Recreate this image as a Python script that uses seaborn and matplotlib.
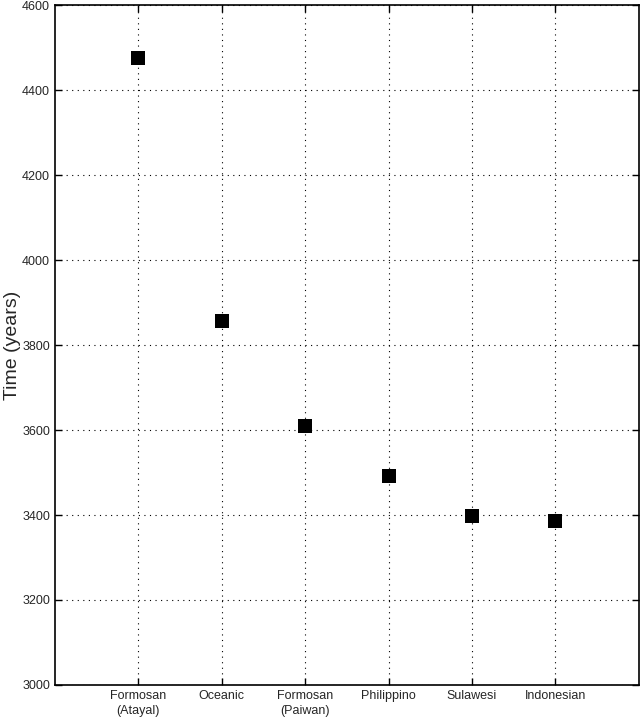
import matplotlib
matplotlib.use("Agg")
import matplotlib.pyplot as plt
import pandas as pd
import seaborn as sns

GROUPS = ["Formosan\n(Atayal)", "Oceanic", "Formosan\n(Paiwan)", "Philippino", "Sulawesi", "Indonesian"]
TIME_YEARS = [4475, 3857, 3609, 3492, 3398, 3386]
Y_TICKS = [3000, 3200, 3400, 3600, 3800, 4000, 4200, 4400, 4600]


def main() -> None:
    sns.set_style("ticks")
    plt.rcParams["font.family"] = ["Liberation Sans", "DejaVu Sans"]

    df = pd.DataFrame({"group": GROUPS, "time": TIME_YEARS})

    fig = plt.figure(figsize=(6.4, 7.26), dpi=100)
    ax = fig.add_axes([0.086, 0.0565, 0.912, 0.9365])
    sns.scatterplot(data=df, x="group", y="time", marker="s", s=110,
                    color="black", edgecolor="black", linewidth=0, ax=ax, zorder=3)

    ax.set_xlim(-1, len(GROUPS))
    ax.set_ylim(3000, 4600)
    ax.set_yticks(Y_TICKS)
    ax.set_xticks(range(len(GROUPS)))
    ax.set_xticklabels(GROUPS, fontsize=9, linespacing=1.35)
    ax.tick_params(axis="y", labelsize=9)
    ax.tick_params(direction="in", length=5, width=1, color="black",
                   top=True, right=True)
    ax.grid(True, linestyle=(0, (1, 4)), color="black", linewidth=0.8)
    for sp in ax.spines.values():
        sp.set_visible(True)
        sp.set_color("black")
        sp.set_linewidth(1.2)

    ax.set_xlabel("")
    ax.set_ylabel("Time (years)", fontsize=14)
    ax.yaxis.set_label_coords(-0.058, 0.5)

    fig.savefig("out.png", dpi=100)
    plt.close(fig)


if __name__ == "__main__":
    main()
